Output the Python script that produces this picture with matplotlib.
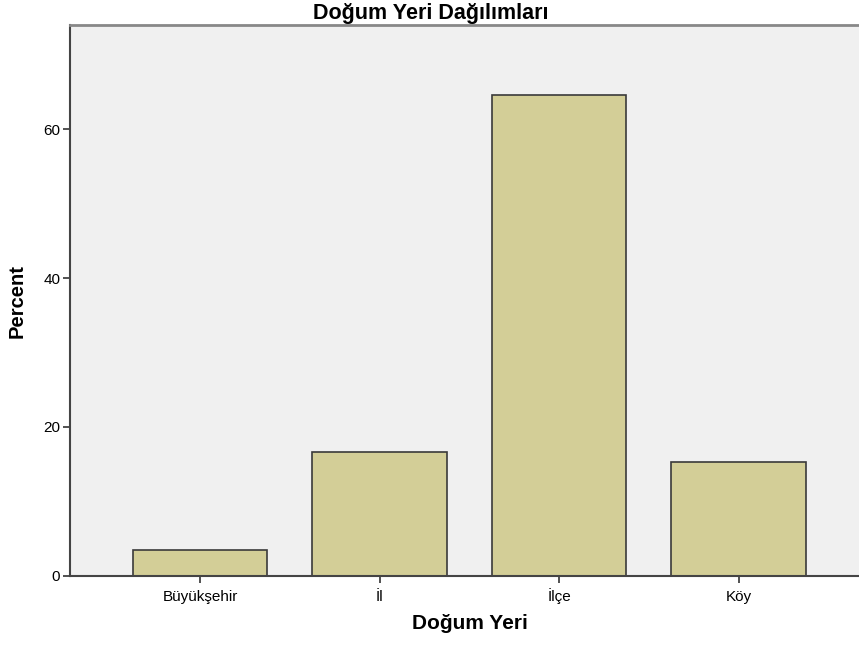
import matplotlib.pyplot as plt

categories = ['Büyükşehir', 'İl', 'İlçe', 'Köy']
percent = [3.5, 16.6, 64.6, 15.3]

plt.rcParams['font.family'] = ['Liberation Sans', 'DejaVu Sans']

fig = plt.figure(figsize=(8.59, 6.45), dpi=100)
ax = fig.add_axes([0.0815, 0.107, 0.9185, 0.8535])
ax.set_facecolor('#f0f0f0')

x = range(len(categories))
ax.bar(x, percent, width=0.75, color='#d3ce97', edgecolor='#3a3a3a', linewidth=1.2, zorder=2)

ax.set_xlim(-0.724, 3.67)
ax.set_ylim(0, 73.9)
ax.set_xticks(list(x))
ax.set_xticklabels(categories, fontsize=11)
for lbl in ax.get_xticklabels():
    lbl.set_va('baseline')
ax.set_yticks([0, 20, 40, 60])
ax.tick_params(axis='y', labelsize=11, length=5, width=1.2, color='#333333', pad=2)
ax.tick_params(axis='x', length=5, width=1.2, color='#333333', pad=13)

ax.spines['right'].set_visible(False)
ax.spines['top'].set_color('#888888')
ax.spines['top'].set_linewidth(2)
for s in ['left', 'bottom']:
    ax.spines[s].set_color('#444444')
    ax.spines[s].set_linewidth(1.5)

ax.set_title('Doğum Yeri Dağılımları', fontsize=15.5, fontweight='bold', pad=5, x=0.4575)
ax.set_xlabel('Doğum Yeri', fontsize=15, fontweight='bold', labelpad=7, x=0.507)
ax.set_ylabel('Percent', fontsize=14.5, fontweight='bold', labelpad=12)

fig.savefig('out.png', dpi=100)
